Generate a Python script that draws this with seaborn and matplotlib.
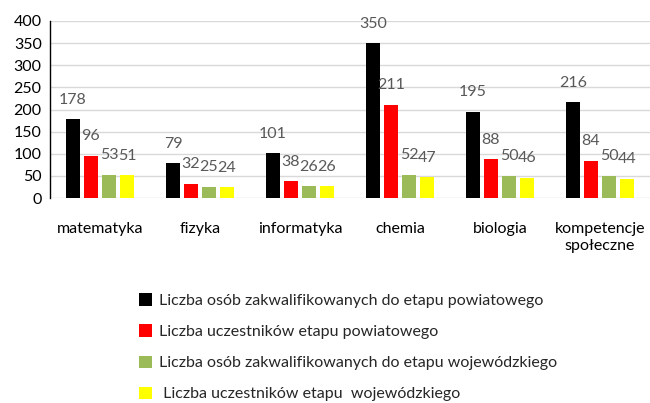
import matplotlib
matplotlib.use("Agg")
import matplotlib.pyplot as plt
import seaborn as sns
import pandas as pd
from matplotlib.patches import Patch

categories = ["matematyka", "fizyka", "informatyka", "chemia", "biologia", "kompetencje\nspołeczne"]
series_names = [
    "Liczba osób zakwalifikowanych do etapu powiatowego",
    "Liczba uczestników etapu powiatowego",
    "Liczba osób zakwalifikowanych do etapu wojewódzkiego",
    " Liczba uczestników etapu  wojewódzkiego",
]
qual_powiat = [178, 79, 101, 350, 195, 216]
uczest_powiat = [96, 32, 38, 211, 88, 84]
qual_woj = [53, 25, 26, 52, 50, 50]
uczest_woj = [51, 24, 26, 47, 46, 44]
colors = ["#000000", "#FF0000", "#9BBB59", "#FFFF00"]
yticks = [0, 50, 100, 150, 200, 250, 300, 350, 400]

sns.set_theme(style="white")
plt.rcParams["font.family"] = ["Lato", "DejaVu Sans"]

rows = []
for s, vals in zip(series_names, [qual_powiat, uczest_powiat, qual_woj, uczest_woj]):
    for c, v in zip(categories, vals):
        rows.append({"kategoria": c, "seria": s, "wartosc": v})
df = pd.DataFrame(rows)

fig = plt.figure(figsize=(6.5, 4.03), dpi=100)
ax = fig.add_axes([50 / 650, 1 - 198 / 403, 600 / 650, 177 / 403])

sns.barplot(data=df, x="kategoria", y="wartosc", hue="seria", order=categories,
            hue_order=series_names, palette=colors, width=0.72, gap=0.22,
            saturation=1, legend=False, ax=ax, edgecolor="none")

for cont in ax.containers:
    ax.bar_label(cont, padding=9, color="#595959", fontsize=11.5)

ax.set_ylim(0, 400)
ax.set_xlim(-0.5, len(categories) - 0.5)
ax.set_yticks(yticks)
ax.set_yticklabels([str(t) for t in yticks], fontsize=11.5, color="black")
ax.tick_params(axis="y", length=0, pad=6)
ax.tick_params(axis="x", length=0, pad=17, labelcolor="black")
for lab in ax.get_xticklabels():
    lab.set_fontsize(11.5)
    lab.set_linespacing(1.35)
ax.set_xlabel("")
ax.set_ylabel("")
ax.grid(axis="y", color="#D9D9D9", linewidth=1)
ax.set_axisbelow(True)
for side in ["top", "right", "bottom"]:
    ax.spines[side].set_visible(False)
ax.spines["left"].set_color("black")
ax.spines["left"].set_linewidth(1)

handles = [Patch(facecolor=c, edgecolor="none") for c in colors]
fig.legend(handles, series_names, loc="upper left", bbox_to_anchor=(125 / 650, 1 - 279 / 403),
           frameon=False, fontsize=11.5, handlelength=0.8, handleheight=0.8,
           handletextpad=0.4, labelspacing=1.03)

fig.savefig("out.png", dpi=100)
